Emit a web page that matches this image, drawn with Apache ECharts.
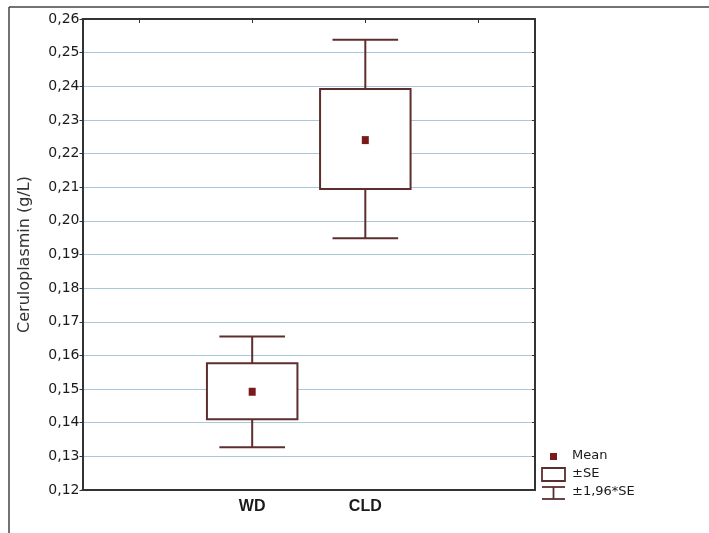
<html>
<head>
    <meta charset="UTF-8">
    <title>Ceruloplasmin</title>
    <style type="text/css">
        html, body { margin: 0; padding: 0; background: #fff; }
        #main { width: 709px; height: 533px; }
    </style>
</head>
<body>
    <div id="main"></div>
    <script src="https://cdn.jsdelivr.net/npm/echarts@6/dist/echarts.min.js"></script>
    <script type="text/javascript">
        // data
        var categories = [' ', 'WD', 'CLD', '  '];
        var groups = ['WD', 'CLD'];
        var meanVals = [0.1492, 0.2240];
        var seLow = [0.1410, 0.2095];
        var seHigh = [0.1577, 0.2392];
        var ciLow = [0.1327, 0.1948];
        var ciHigh = [0.1656, 0.2538];
        var yMin = 0.12, yMax = 0.26, yStep = 0.01;

        var boxColor = '#5e2e2e';
        var meanColor = '#7b1a1a';

        var boxData = groups.map(function (g, i) {
            return [g, ciLow[i], seLow[i], meanVals[i], seHigh[i], ciHigh[i]];
        });
        var meanData = groups.map(function (g, i) { return [g, meanVals[i]]; });

        function renderBox(params, api) {
            var x = api.value(0);
            var band = api.size([1, 0])[0];
            var pLo = api.coord([x, api.value(1)]);
            var pSeLo = api.coord([x, api.value(2)]);
            var pSeHi = api.coord([x, api.value(4)]);
            var pHi = api.coord([x, api.value(5)]);
            var cx = pLo[0];
            var bw = band * 0.4;
            var cw = band * 0.29;
            var st = { stroke: boxColor, lineWidth: 2, fill: null };
            return {
                type: 'group',
                children: [
                    { type: 'line', shape: { x1: cx, y1: pHi[1], x2: cx, y2: pSeHi[1] }, style: st },
                    { type: 'line', shape: { x1: cx, y1: pSeLo[1], x2: cx, y2: pLo[1] }, style: st },
                    { type: 'line', shape: { x1: cx - cw, y1: pHi[1], x2: cx + cw, y2: pHi[1] }, style: st },
                    { type: 'line', shape: { x1: cx - cw, y1: pLo[1], x2: cx + cw, y2: pLo[1] }, style: st },
                    { type: 'rect', shape: { x: cx - bw, y: pSeHi[1], width: bw * 2, height: pSeLo[1] - pSeHi[1] },
                      style: { stroke: boxColor, lineWidth: 2, fill: '#fff' } }
                ]
            };
        }

        var lblFont = 'DejaVu Sans';
        var option = {
            backgroundColor: '#fff',
            animation: false,
            grid: { left: 82.5, right: 174, top: 19, bottom: 43 },
            xAxis: [{
                type: 'category',
                data: categories,
                boundaryGap: true,
                axisLine: { lineStyle: { color: '#333', width: 2 } },
                axisTick: { alignWithLabel: true, inside: true, length: 4, lineStyle: { color: '#333' } },
                axisLabel: { color: '#1a1a1a', fontFamily: 'Liberation Sans', fontWeight: 'bold', fontSize: 16, margin: 9 },
                splitLine: { show: false }
            }, {
                type: 'category',
                position: 'top',
                data: categories,
                boundaryGap: true,
                axisLine: { show: true, lineStyle: { color: '#333', width: 2 } },
                axisTick: { show: true, alignWithLabel: true, inside: true, length: 4, lineStyle: { color: '#333' } },
                axisLabel: { show: false }
            }],
            yAxis: [{
                type: 'value',
                min: yMin,
                max: yMax,
                interval: yStep,
                name: 'Ceruloplasmin (g/L)',
                nameLocation: 'middle',
                nameGap: 50,
                nameTextStyle: { color: '#333', fontFamily: lblFont, fontSize: 16 },
                axisLine: { show: true, lineStyle: { color: '#333', width: 2 } },
                axisTick: { show: true, length: 3, lineStyle: { color: '#333' } },
                axisLabel: {
                    color: '#1a1a1a', fontFamily: lblFont, fontSize: 14, margin: 3,
                    formatter: function (v) { return v.toFixed(2).replace('.', ','); }
                },
                splitLine: { show: true, lineStyle: { color: '#a9c8dc', width: 1 } }
            }, {
                type: 'value',
                position: 'right',
                min: yMin,
                max: yMax,
                interval: yStep,
                axisLine: { show: true, lineStyle: { color: '#333', width: 2 } },
                axisTick: { show: true, inside: true, length: 3, lineStyle: { color: '#333' } },
                axisLabel: { show: false },
                splitLine: { show: false }
            }],
            series: [{
                type: 'custom',
                renderItem: renderBox,
                encode: { x: 0, y: [1, 2, 3, 4, 5] },
                data: boxData,
                z: 2
            }, {
                type: 'scatter',
                symbol: 'rect',
                symbolSize: [7, 8],
                itemStyle: { color: meanColor, opacity: 1 },
                data: meanData,
                z: 3
            }],
            graphic: [
                // outer frame
                { type: 'line', shape: { x1: 9, y1: 7, x2: 709, y2: 7 }, style: { stroke: '#444', lineWidth: 1.5 } },
                { type: 'line', shape: { x1: 9, y1: 7, x2: 9, y2: 533 }, style: { stroke: '#444', lineWidth: 1.5 } },
                // legend
                { type: 'rect', shape: { x: 550, y: 453, width: 7, height: 7 }, style: { fill: meanColor } },
                { type: 'text', x: 572, y: 456, style: { text: 'Mean', fill: '#1a1a1a', font: '13px DejaVu Sans', textVerticalAlign: 'middle' } },
                { type: 'rect', shape: { x: 542, y: 468, width: 23, height: 13 }, style: { fill: '#fff', stroke: boxColor, lineWidth: 1.8 } },
                { type: 'text', x: 572, y: 474, style: { text: '±SE', fill: '#1a1a1a', font: '13px DejaVu Sans', textVerticalAlign: 'middle' } },
                { type: 'line', shape: { x1: 542, y1: 487, x2: 565, y2: 487 }, style: { stroke: boxColor, lineWidth: 1.8 } },
                { type: 'line', shape: { x1: 553.5, y1: 487, x2: 553.5, y2: 499 }, style: { stroke: boxColor, lineWidth: 1.8 } },
                { type: 'line', shape: { x1: 542, y1: 499, x2: 565, y2: 499 }, style: { stroke: boxColor, lineWidth: 1.8 } },
                { type: 'text', x: 572, y: 492, style: { text: '±1,96*SE', fill: '#1a1a1a', font: '13px DejaVu Sans', textVerticalAlign: 'middle' } }
            ]
        };

        var myChart = echarts.init(document.getElementById('main'));
        myChart.setOption(option);
    </script>
</body>
</html>
